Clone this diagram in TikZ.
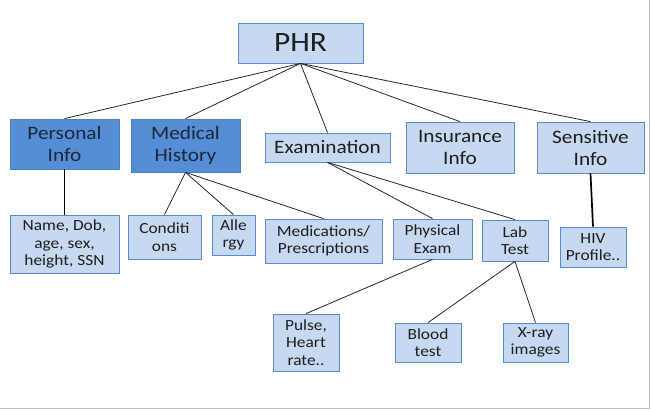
\documentclass[tikz,border=0pt]{standalone}
\usepackage{fontspec}
\setmainfont{Carlito}[FakeStretch=1.12]
\usepackage{tikz}
\definecolor{BoxFill}{HTML}{C6D9F1}
\definecolor{BoxEdge}{HTML}{5A8AD0}
\definecolor{DeepFill}{HTML}{558ED5}
\definecolor{InkGrey}{HTML}{1E1E1E}
\definecolor{DeepInk}{HTML}{1C2738}
\definecolor{FrameGrey}{HTML}{BDBDBD}

\begin{document}
\begin{tikzpicture}[x=1pt, y=-1pt,
    box/.style={draw=BoxEdge, fill=BoxFill, line width=0.8pt, inner sep=0pt,
                align=center, text=InkGrey, font=\fontsize{15.5}{17.5}\selectfont},
    midbox/.style={box, font=\fontsize{19}{22}\selectfont},
    deepbox/.style={midbox, fill=DeepFill, draw=DeepFill!90!black, text=DeepInk},
    link/.style={draw=black!85, line width=0.8pt},
    stem/.style={draw=black, line width=1.7pt}]
  \useasboundingbox (0,0) rectangle (651,412);
  % screenshot frame
  \draw[FrameGrey, line width=1pt] (649,0) -- (649,408) -- (0,408);

  % root
  \node[box, minimum width=125pt, minimum height=40pt,
        font=\fontsize{28}{32}\selectfont] (phr) at (300.5,43) {PHR};

  % first level
  \node[deepbox, minimum width=109pt, minimum height=50pt] (pers) at (64.5,144) {Personal\\Info};
  \node[deepbox, minimum width=109pt, minimum height=53pt] (medh) at (185.5,145.5) {Medical\\History};
  \node[midbox, minimum width=125pt, minimum height=29pt] (exam) at (327.5,147.5) {Examination};
  \node[midbox, minimum width=108pt, minimum height=51pt] (insur) at (460,147.5) {Insurance\\Info};
  \node[midbox, minimum width=107pt, minimum height=51pt] (sens) at (590.5,147.5) {Sensitive\\Info};

  % second level
  \node[box, minimum width=109pt, minimum height=58pt] (ident) at (64.5,244) {Name, Dob,\\age, sex,\\height, SSN};
  \node[box, minimum width=73pt, minimum height=44pt] (cond) at (164.5,237) {Conditi\\ons};
  \node[box, minimum width=43pt, minimum height=40pt] (allg) at (233.5,235) {Alle\\rgy};
  \node[box, minimum width=117pt, minimum height=44pt] (meds) at (323.5,241) {Medications/\\Prescriptions};
  \node[box, minimum width=79pt, minimum height=40pt] (phys) at (432.5,239) {Physical\\Exam};
  \node[box, minimum width=66pt, minimum height=41pt] (lab) at (515,240.5) {Lab\\Test};
  \node[box, minimum width=66pt, minimum height=40pt] (hiv) at (593,247) {HIV\\Profile..};

  % third level
  \node[box, minimum width=66pt, minimum height=57pt] (pulse) at (306,342.5) {Pulse,\\Heart\\rate..};
  \node[box, minimum width=66pt, minimum height=39pt] (blood) at (428,342.5) {Blood\\test};
  \node[box, minimum width=65pt, minimum height=39pt] (xray) at (535.5,342.5) {X-ray\\images};

  % connectors
  \foreach \kid in {pers,medh,exam,insur,sens}
    \draw[link] (phr.south) -- (\kid.north);
  \foreach \kid in {cond,allg,meds}
    \draw[link] (medh.south) -- (\kid.north);
  \foreach \kid in {phys,lab}
    \draw[link] (exam.south) -- (\kid.north);
  \foreach \kid in {blood,xray}
    \draw[link] (lab.south) -- (\kid.north);
  \draw[link] (phys.south) -- (pulse.north);
  \draw[stem] (pers.south) -- (ident.north);
  \draw[stem] (sens.south) -- (hiv.north);
\end{tikzpicture}
\end{document}
